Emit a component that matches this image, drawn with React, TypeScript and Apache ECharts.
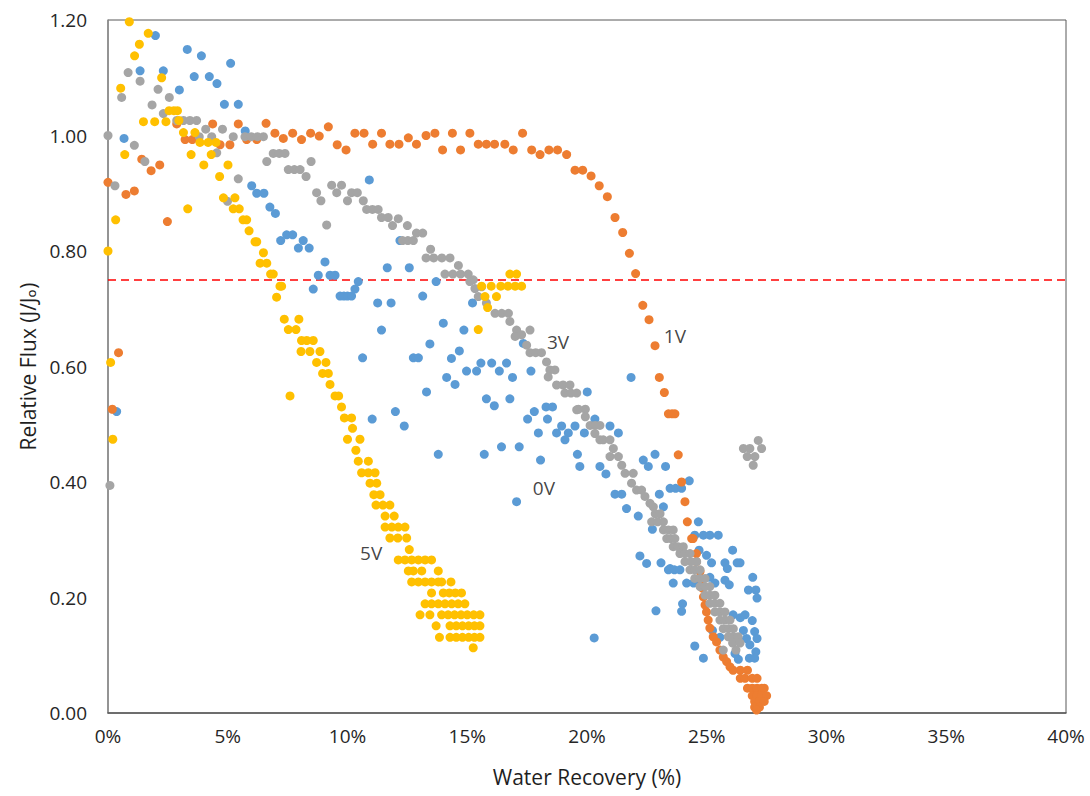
import React, { useEffect, useRef } from "react";
import * as echarts from "echarts";

const xTicks = [0, 5, 10, 15, 20, 25, 30, 35, 40];
const yTicks = [0, 0.2, 0.4, 0.6, 0.8, 1.0, 1.2];
const threshold = 0.75;

// 0V (blue)
const s0V: number[][] = [
  [0.36,0.522],[0.67,0.995],[1.34,1.112],[1.98,1.173],[2.31,1.112],[2.98,1.079],[3.31,1.149],[3.60,1.102],[3.90,1.138],[4.23,1.102],[4.55,1.09],[4.86,1.054],[5.12,1.125],[5.44,1.054],[5.73,1.008],[6.0,0.913],[6.21,0.90],[6.51,0.90],[6.76,0.876],[6.99,0.865],[7.21,0.818],[7.46,0.828],[7.71,0.828],[7.95,0.805],[8.15,0.818],[8.4,0.805],[9.06,0.781],[8.78,0.758],[9.27,0.758],[9.48,0.758],[8.57,0.734],[9.69,0.722],[9.85,0.722],[10.0,0.722],[10.17,0.722],[10.31,0.734],[10.45,0.747],[10.91,0.923],[11.66,0.771],[12.58,0.771],[11.26,0.71],[11.82,0.71],[11.42,0.663],[12.19,0.818],[13.14,0.722],[13.7,0.747],[14.0,0.675],[13.44,0.639],[10.63,0.615],[12.75,0.615],[12.96,0.615],[13.3,0.556],[12.0,0.522],[11.03,0.509],[12.37,0.497],[14.34,0.614],[14.67,0.627],[14.14,0.581],[14.49,0.569],[14.86,0.663],[15.22,0.71],[14.97,0.592],[15.39,0.592],[15.57,0.606],[16.02,0.606],[16.34,0.592],[16.64,0.606],[16.89,0.581],[15.8,0.544],[16.13,0.532],[16.78,0.544],[17.34,0.64],[17.66,0.592],[17.52,0.509],[17.8,0.522],[18.35,0.509],[18.29,0.53],[18.56,0.53],[17.97,0.485],[13.79,0.448],[15.71,0.448],[16.43,0.461],[17.17,0.461],[18.06,0.438],[17.06,0.366],
  [18.73,0.485],[18.94,0.497],[19.22,0.485],[19.5,0.497],[19.08,0.473],[20.01,0.556],[21.84,0.581],[19.6,0.448],[19.7,0.427],[20.33,0.509],[20.96,0.497],[21.31,0.485],[20.54,0.427],[20.79,0.414],[19.89,0.485],[21.17,0.379],[21.45,0.379],[21.65,0.354],[22.14,0.341],[22.35,0.438],[22.56,0.427],[22.84,0.448],[23.28,0.427],[23.02,0.379],[22.73,0.318],[23.47,0.389],[23.7,0.389],[23.95,0.389],[24.27,0.402],[23.19,0.357],[24.65,0.331],[24.5,0.308],[24.86,0.308],[25.13,0.308],[25.48,0.308],[24.68,0.282],[26.08,0.282],[22.21,0.272],[22.49,0.259],[23.09,0.26],[23.47,0.25],[24.99,0.273],[25.2,0.26],[25.76,0.26],[26.39,0.26],[25.86,0.25],[26.27,0.26],
  [23.4,0.248],[23.65,0.248],[23.88,0.248],[23.6,0.225],[24.16,0.225],[24.45,0.225],[24.72,0.225],[25.13,0.235],[25.34,0.225],[25.76,0.230],[25.94,0.222],[26.92,0.235],[26.74,0.213],[27.05,0.213],[27.1,0.199],[22.88,0.177],[23.99,0.189],[23.95,0.176],[26.1,0.17],[26.4,0.165],[26.6,0.17],[26.9,0.16],[25.24,0.143],[25.55,0.131],[26.53,0.143],[26.66,0.129],[27.0,0.141],[27.1,0.129],[24.5,0.116],[24.86,0.095],[26.8,0.118],[27.05,0.106],[26.78,0.095],[27.0,0.095],[26.32,0.093],[26.18,0.103],[20.3,0.13]
];

// 1V (orange)
const s1V: number[][] = [
  [0,0.919],[0.18,0.526],[0.44,0.624],[0.75,0.898],[1.10,0.904],[1.41,0.959],[1.80,0.939],[2.16,0.949],[2.48,0.851],[2.87,1.02],[3.22,0.993],[3.52,0.993],[4.37,1.02],[4.68,0.984],[5.09,0.984],[5.44,1.02],[5.79,0.993],[6.21,0.993],[6.6,1.021],[6.97,1.004],[7.32,0.995],[7.71,1.004],[8.08,0.993],[8.46,1.004],[8.82,0.999],[9.2,1.015],[9.57,0.984],[9.94,0.975],[10.31,1.004],[10.69,1.004],[11.05,0.985],[11.42,1.004],[11.77,0.985],[12.15,0.985],[12.54,0.996],[12.88,0.985],[13.28,1.0],[13.65,1.004],[13.97,0.975],[14.38,1.004],[14.72,0.975],[15.11,1.004],[15.46,0.985],[15.8,0.985],[16.14,0.985],[16.57,0.985],[16.92,0.975],[17.31,1.004],[17.69,0.975],[18.04,0.967],[18.41,0.975],[18.77,0.975],[19.15,0.967],[19.5,0.94],[19.82,0.94],[20.17,0.93],[20.51,0.913],[20.85,0.894],[21.17,0.858],[21.49,0.832],[21.77,0.796],[22.03,0.761],[22.33,0.706],[22.59,0.681],[22.84,0.636],[23.02,0.581],[23.23,0.555],[23.4,0.518],[23.55,0.518],[23.67,0.518],[23.81,0.447],[23.95,0.40],[24.09,0.366],[24.19,0.331],[24.37,0.302],[24.43,0.302],[24.57,0.276],[24.57,0.262],[24.72,0.245],[24.79,0.230],[24.83,0.216],[24.86,0.201],[24.93,0.187],[24.99,0.175],[25.06,0.161],[25.13,0.147],[25.27,0.132],[25.41,0.123],[25.55,0.109],[25.69,0.097],[25.83,0.089],[25.97,0.080],[26.1,0.074],[26.4,0.074],[26.7,0.074],[26.4,0.060],[26.6,0.060],[26.9,0.060],[27.1,0.060],[26.7,0.043],[26.9,0.043],[27.1,0.043],[27.3,0.043],[27.4,0.043],[26.9,0.030],[27.1,0.030],[27.3,0.030],[27.5,0.030],[27.0,0.020],[27.2,0.020],[27.4,0.020],[27.0,0.010],[27.2,0.010],[27.08,0.005]
];

// 3V (gray)
const s3V: number[][] = [
  [0,1.0],[0.08,0.394],[0.29,0.913],[0.57,1.066],[0.84,1.109],[1.1,0.983],[1.34,1.094],[1.54,0.955],[1.84,1.053],[2.09,1.08],[2.31,1.038],[2.56,1.066],[2.87,1.026],[3.15,1.026],[3.42,1.026],[3.70,1.026],[3.81,0.998],[4.08,1.011],[4.33,0.998],[4.54,0.97],[4.78,1.011],[5.23,0.998],[5.44,0.925],[4.99,0.886],[5.72,0.998],[5.98,0.998],[6.24,0.998],[6.49,0.998],[6.63,0.955],[6.9,0.969],[7.15,0.969],[7.39,0.969],[7.53,0.941],[7.78,0.941],[8.02,0.941],[8.27,0.929],[8.48,0.955],[8.71,0.901],[8.89,0.887],[9.34,0.914],[9.55,0.901],[9.75,0.914],[9.13,0.845],[10.0,0.887],[10.17,0.901],[10.41,0.901],[10.66,0.887],[10.8,0.872],[11.04,0.872],[11.28,0.872],[11.42,0.858],[11.7,0.858],[11.88,0.844],[12.12,0.856],[12.5,0.844],[12.3,0.818],[12.52,0.818],[12.75,0.818],[12.88,0.831],[13.14,0.831],[13.47,0.803],[13.28,0.788],[13.6,0.788],[13.94,0.788],[14.28,0.788],[14.63,0.775],[14.07,0.76],[14.4,0.76],[14.72,0.76],[15.04,0.76],[15.25,0.75],[15.11,0.747],[15.32,0.735],[15.6,0.738],[15.46,0.721],[15.8,0.710],[16.16,0.692],[16.44,0.692],[16.72,0.692],[16.78,0.678],[17.06,0.663],[17.27,0.655],[17.62,0.663],[17.0,0.652],[17.48,0.637],[17.62,0.624],[17.86,0.624],[18.1,0.624],[18.31,0.608],[18.45,0.594],[18.66,0.594],[18.38,0.582],[18.73,0.568],[19.0,0.568],[19.29,0.568],[19.08,0.554],[19.33,0.554],[19.57,0.554],[19.57,0.525],[19.64,0.526],[19.93,0.526],[19.93,0.513],[20.13,0.498],[20.34,0.498],[20.54,0.498],[20.33,0.484],[20.54,0.473],[20.68,0.473],[20.96,0.473],[21.1,0.458],[20.96,0.444],[21.31,0.444],[21.45,0.429],[21.59,0.415],[21.93,0.415],[21.86,0.398],[22.07,0.386],[22.28,0.386],[22.42,0.375],[22.63,0.363],[22.77,0.357],[22.85,0.345],[23.05,0.345],[22.7,0.331],[22.95,0.331],[23.19,0.331],[23.19,0.317],[23.4,0.317],[23.6,0.317],[23.33,0.302],[23.5,0.302],[23.67,0.302],[23.6,0.288],[23.8,0.288],[24.02,0.288],[23.88,0.276],[24.09,0.276],[24.3,0.276],[24.09,0.262],[24.34,0.262],[24.58,0.262],[24.3,0.248],[24.5,0.248],[24.72,0.248],[24.5,0.233],[24.72,0.233],[24.93,0.233],[24.72,0.219],[24.93,0.219],[25.13,0.219],[24.93,0.204],[25.13,0.204],[25.34,0.204],[25.13,0.190],[25.34,0.190],[25.55,0.190],[25.34,0.175],[25.55,0.175],[25.76,0.175],[25.55,0.161],[25.76,0.161],[25.97,0.161],[25.69,0.146],[25.9,0.146],[26.11,0.146],[25.9,0.132],[26.1,0.132],[26.31,0.132],[26.08,0.121],[26.39,0.121],[25.69,0.109],[26.22,0.109],
  [26.53,0.458],[26.8,0.458],[27.15,0.472],[27.29,0.458],[26.69,0.444],[27.01,0.444],[26.94,0.429]
];

// 5V (yellow)
const s5V: number[][] = [
  [0,0.80],[0.11,0.607],[0.2,0.474],[0.32,0.854],[0.53,1.082],[0.70,0.967],[0.89,1.197],[1.11,1.138],[1.31,1.158],[1.68,1.177],[2.24,1.10],
  [1.48,1.024],[1.95,1.024],[2.42,1.024],[2.55,1.043],[2.75,1.043],[2.90,1.043],[2.96,1.026],
  [3.15,1.005],[3.63,1.005],[3.33,0.873],[3.47,0.967],[3.84,0.988],[4.18,0.988],[4.51,0.988],[4.31,0.967],[4.0,0.949],[5.01,0.949],[4.66,0.929],
  [4.82,0.892],[5.30,0.892],[5.23,0.873],[5.48,0.873],[5.64,0.854],[5.79,0.854],[5.89,0.835],[6.14,0.816],[6.21,0.816],[6.49,0.797],[6.35,0.779],[6.63,0.779],[6.79,0.760],[6.90,0.760],[7.18,0.739],[7.25,0.739],[7.04,0.720],
  [7.36,0.682],[7.97,0.682],[7.53,0.664],[7.85,0.664],[7.6,0.549],
  [8.08,0.645],[8.3,0.645],[8.57,0.645],[8.06,0.626],[8.43,0.626],[8.85,0.626],[8.71,0.607],[9.10,0.607],[8.96,0.588],[9.2,0.588],[9.27,0.569],[9.48,0.549],[9.63,0.549],[9.75,0.530],[9.87,0.511],[10.17,0.511],[10.21,0.493],[10.0,0.474],[10.52,0.474],[10.35,0.455],[10.45,0.436],[10.87,0.436],[10.59,0.416],[10.87,0.416],[11.15,0.416],[10.94,0.398],[11.22,0.398],[11.1,0.378],[11.36,0.378],[11.19,0.360],[11.48,0.360],[11.77,0.360],[11.57,0.341],[11.95,0.341],[11.57,0.322],[11.85,0.322],[12.12,0.322],[12.4,0.322],[11.77,0.303],[12.1,0.303],[12.47,0.303],[12.58,0.283],
  [12.12,0.265],[12.4,0.265],[12.68,0.265],[12.96,0.265],[13.24,0.265],[13.51,0.265],
  [12.54,0.246],[12.75,0.246],[13.1,0.246],[13.79,0.246],
  [12.68,0.227],[12.96,0.227],[13.24,0.227],[13.51,0.227],[13.79,0.227],[13.93,0.227],[14.32,0.227],
  [13.51,0.208],[14.0,0.208],[14.25,0.208],[14.5,0.208],[14.76,0.208],
  [13.24,0.189],[13.51,0.189],[13.79,0.189],[14.07,0.189],[14.35,0.189],[14.62,0.189],[14.9,0.189],
  [13.03,0.170],[13.44,0.170],[13.93,0.170],[14.2,0.170],[14.47,0.170],[14.74,0.170],[15.0,0.170],[15.27,0.170],[15.53,0.170],
  [13.7,0.151],[14.28,0.151],[14.54,0.151],[14.8,0.151],[15.06,0.151],[15.3,0.151],[15.53,0.151],
  [13.84,0.131],[14.28,0.131],[14.54,0.131],[14.8,0.131],[15.06,0.131],[15.3,0.131],[15.53,0.131],
  [15.25,0.113],
  [15.46,0.664],[15.85,0.702],[15.74,0.721],[16.22,0.721],[15.6,0.739],[16.0,0.739],[16.4,0.739],[16.7,0.739],[17.0,0.739],[17.27,0.739],[16.78,0.760],[17.06,0.760]
];

const seriesNames = ["0V", "1V", "3V", "5V"];
const seriesColors = ["#5B9BD5", "#ED7D31", "#A5A5A5", "#FFC000"];
const seriesData = [s0V, s1V, s3V, s5V];

// series labels placed in data coordinates
const labelX = [18.2, 23.67, 18.79, 10.99];
const labelY = [0.389, 0.652, 0.643, 0.277];

const FONT = "'Open Sans', 'DejaVu Sans', sans-serif";

export default function App() {
  const ref = useRef<HTMLDivElement>(null);
  useEffect(() => {
    if (!ref.current) return;
    const chart = echarts.init(ref.current, null, { renderer: "svg" });
    const series: any[] = seriesData.map((d, i) => ({
      name: seriesNames[i],
      type: "scatter",
      data: d,
      symbol: "circle",
      symbolSize: 9,
      itemStyle: { color: seriesColors[i], opacity: 1 },
      z: 2 + i,
      ...(i === 0
        ? {
            markLine: {
              silent: true,
              symbol: ["none", "none"],
              label: { show: false },
              lineStyle: { color: "#FF0000", type: [8, 5], width: 1.6 },
              data: [{ yAxis: threshold }],
              z: 1,
            },
          }
        : {}),
    }));
    series.push({
      type: "scatter",
      symbolSize: 0,
      z: 10,
      data: seriesNames.map((n, i) => ({ value: [labelX[i], labelY[i]], name: n })),
      label: {
        show: true,
        position: "inside",
        formatter: (p: any) => p.name,
        color: "#111111",
        fontSize: 19,
        fontFamily: FONT,
      },
    });
    chart.setOption({
      animation: false,
      backgroundColor: "#ffffff",
      grid: {
        left: 108,
        right: 24,
        top: 20,
        bottom: 83,
        show: true,
        borderColor: "#595959",
        borderWidth: 1,
      },
      xAxis: {
        type: "value",
        min: xTicks[0],
        max: xTicks[xTicks.length - 1],
        interval: 5,
        name: "Water Recovery (%)",
        nameLocation: "middle",
        nameGap: 53,
        nameTextStyle: { fontSize: 21, color: "#1f1f1f", fontFamily: FONT },
        axisLine: { show: true, lineStyle: { color: "#595959", width: 1.5 } },
        axisTick: { show: false },
        splitLine: { show: false },
        axisLabel: {
          formatter: (v: number) => v + "%",
          fontSize: 19,
          color: "#262626",
          margin: 13,
          fontFamily: FONT,
        },
      },
      yAxis: {
        type: "value",
        min: yTicks[0],
        max: yTicks[yTicks.length - 1],
        interval: 0.2,
        name: "Relative Flux (J/Jₒ)",
        nameLocation: "middle",
        nameGap: 70,
        nameTextStyle: { fontSize: 21, color: "#1f1f1f", fontFamily: FONT },
        axisLine: { show: true, lineStyle: { color: "#8c8c8c", width: 1.5 } },
        axisTick: { show: false },
        splitLine: { show: false },
        axisLabel: {
          formatter: (v: number) => v.toFixed(2),
          fontSize: 19,
          color: "#262626",
          margin: 21,
          fontFamily: FONT,
        },
      },
      series,
    });
    return () => chart.dispose();
  }, []);
  return (
    <div
      ref={ref}
      style={{ position: "fixed", left: 0, top: 0, width: 1090, height: 796, background: "#fff" }}
    />
  );
}
